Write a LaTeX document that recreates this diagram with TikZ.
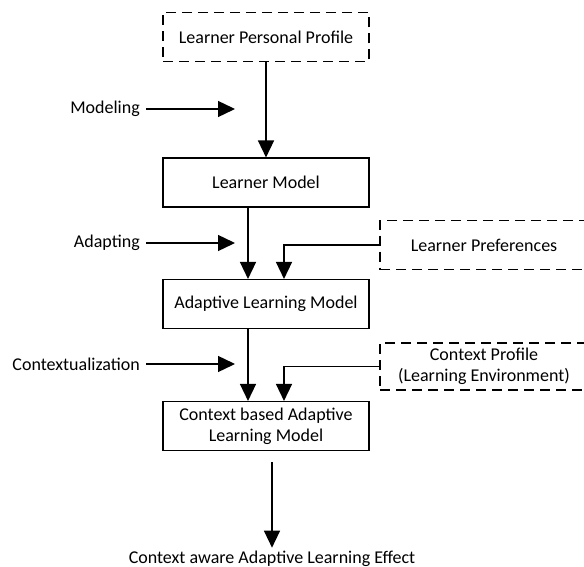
\documentclass[tikz,border=0pt]{standalone}
\usepackage{fontspec}
\setmainfont{Carlito}
\usetikzlibrary{arrows.meta}

\begin{document}
\begin{tikzpicture}[
                x=1pt, y=-1pt,
                font=\fontsize{18}{21}\selectfont,
                block/.style={draw, line width=1.1pt, minimum width=206pt, minimum height=49pt, align=center, inner sep=2pt},
                dblock/.style={block, dash pattern=on 10pt off 6pt},
                flow/.style={-{Triangle[length=17pt,width=16pt]}, line width=1.4pt},
                lbl/.style={anchor=east, inner sep=6pt}
            ]
                \useasboundingbox (0,0) rectangle (584,567);
                \node[dblock] (profile) at (266,37) {Learner Personal Profile};
                \node[block] (learner) at (266,182.5) {Learner Model};
                \node[block] (adaptive) at (266,304) {Adaptive Learning Model};
                \node[block] (ctxmodel) at (266,426) {Context based Adaptive\\Learning Model};
                \node[dblock, minimum width=208pt] (prefs) at (484,245) {Learner Preferences};
                \node[dblock, minimum width=208pt, minimum height=47pt] (ctxprofile) at (484,366.5) {Context Profile\\(Learning Environment)};
                \node[] (effect) at (272,559) {Context aware Adaptive Learning Effect};

                \node[lbl] (modeling) at (146,109) {Modeling};
                \node[lbl] (adapting) at (146,243) {Adapting};
                \node[lbl] (contextual) at (146,364) {Contextualization};
                \coordinate (mtip) at (235,109);
                \coordinate (atip) at (235,243);
                \coordinate (ctip) at (235,364);
                \coordinate (etop) at (272,462);

                \draw[flow] (modeling) -- (mtip);
                \draw[flow] (adapting) -- (atip);
                \draw[flow] (contextual) -- (ctip);
                \draw[flow] (profile) -- (learner);
                \draw[flow] ([xshift=-18pt]learner.south) -- ([xshift=-18pt]adaptive.north);
                \draw[flow] (prefs.west) -| ([xshift=18pt]adaptive.north);
                \draw[flow] ([xshift=-18pt]adaptive.south) -- ([xshift=-18pt]ctxmodel.north);
                \draw[flow] (ctxprofile.west) -| ([xshift=18pt]ctxmodel.north);
                \draw[flow] (etop) -- (effect);
            \end{tikzpicture}
\end{document}
